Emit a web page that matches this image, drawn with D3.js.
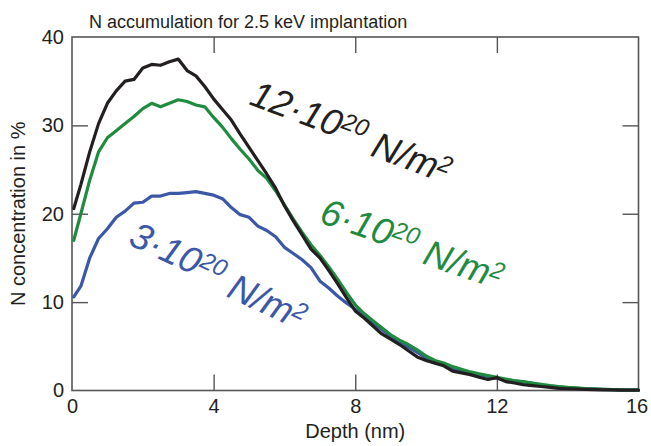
<!DOCTYPE html>
<html>
<head>
<meta charset="utf-8">
<script src="https://cdn.jsdelivr.net/npm/d3@7"></script>
<style>
  html, body { margin: 0; padding: 0; background: #fff; }
  svg { display: block; font-family: "Liberation Sans", Arial, Helvetica, sans-serif; }
</style>
</head>
<body>
<svg id="chart" width="651" height="446"></svg>
<script>
// Depth grid (nm)
const depth = [0.05, 0.25, 0.5, 0.75, 1, 1.25, 1.5, 1.75, 2, 2.25, 2.5, 2.75, 3, 3.25, 3.5, 3.75,
  4, 4.25, 4.5, 4.75, 5, 5.25, 5.5, 5.75, 6, 6.25, 6.5, 6.75, 7, 7.25, 7.5, 7.75,
  8, 8.25, 8.5, 8.75, 9, 9.25, 9.5, 9.75, 10, 10.25, 10.5, 10.75, 11, 11.25, 11.5, 11.75,
  12, 12.25, 12.5, 12.75, 13, 13.25, 13.5, 13.75, 14, 14.25, 14.5, 14.75, 15, 15.25, 15.5, 15.75, 16];

// N concentration (%) for each fluence
const dose3 = [10.6, 11.8, 15.0, 17.2, 18.3, 19.6, 20.3, 21.2, 21.3, 22.0, 22.0, 22.3, 22.3, 22.4, 22.5, 22.3,
  22.1, 21.7, 20.7, 19.9, 19.6, 18.6, 18.1, 17.4, 16.2, 15.5, 14.8, 13.9, 12.4, 11.6, 10.7, 9.9,
  9.2, 8.5, 7.7, 6.9, 6.1, 5.5, 4.9, 4.3, 3.7, 3.3, 2.9, 2.5, 2.2, 2.0, 1.8, 1.6,
  1.4, 1.2, 1.1, 0.95, 0.8, 0.6, 0.5, 0.4, 0.3, 0.25, 0.2, 0.15, 0.12, 0.09, 0.07, 0.05, 0.04];

const dose6 = [17.0, 20.0, 23.8, 27.0, 28.6, 29.4, 30.2, 31.0, 31.9, 32.5, 32.1, 32.5, 32.9, 32.7, 32.3, 32.1,
  30.9, 29.8, 28.5, 27.3, 26.2, 24.9, 24.0, 22.6, 21.0, 19.4, 17.9, 16.5, 15.3, 14.0, 12.6, 11.1,
  9.7, 8.7, 7.9, 7.1, 6.3, 5.7, 5.2, 4.6, 3.9, 3.4, 3.1, 2.7, 2.4, 2.1, 1.9, 1.7,
  1.5, 1.3, 1.1, 1.0, 0.85, 0.7, 0.55, 0.45, 0.35, 0.3, 0.22, 0.18, 0.14, 0.1, 0.08, 0.06, 0.05];

const dose12 = [20.6, 23.3, 27.0, 30.2, 32.5, 33.9, 35.0, 35.2, 36.5, 36.9, 36.8, 37.2, 37.5, 36.2, 35.6, 34.4,
  33.0, 31.8, 30.6, 29.0, 27.5, 26.0, 24.5, 22.9, 20.9, 19.2, 17.6, 16.0, 15.0, 13.6, 12.1, 10.5,
  9.0, 8.2, 7.3, 6.4, 5.8, 5.2, 4.5, 3.8, 3.4, 3.1, 2.8, 2.2, 2.0, 1.8, 1.5, 1.25,
  1.45, 1.0, 0.85, 0.65, 0.55, 0.45, 0.35, 0.25, 0.2, 0.17, 0.13, 0.1, 0.08, 0.07, 0.05, 0.05, 0.04];

const xTicks = [0, 4, 8, 12, 16];
const yTicks = [0, 10, 20, 30, 40];

const series = [
  { values: dose3,  color: "#3b57a7", base: "3", label: [127, 244, 25] },
  { values: dose6,  color: "#1f8b3f", base: "6", label: [318, 222, 19] },
  { values: dose12, color: "#231f20", base: "12", label: [248, 104, 20.5] }
];

const svg = d3.select("#chart");
const W = 651, H = 446;
const m = { left: 72, right: 12.5, top: 37, bottom: 55.5 };

const x = d3.scaleLinear().domain([0, 16]).range([m.left, W - m.right]);
const y = d3.scaleLinear().domain([0, 40]).range([H - m.bottom, m.top]);

const axisColor = "#555";
const tickLen = 16;

// Frame
svg.append("rect")
  .attr("x", x(0)).attr("y", y(40))
  .attr("width", x(16) - x(0)).attr("height", y(0) - y(40))
  .attr("fill", "none").attr("stroke", axisColor).attr("stroke-width", 1.6);

function styleAxis(g) {
  g.select(".domain").remove();
  g.selectAll(".tick line").attr("stroke", axisColor).attr("stroke-width", 1.4);
  g.selectAll(".tick text").attr("fill", "#231f20").style("font-size", "20px");
  g.selectAll(".tick").filter(d => d === 0 || d === 16 || d === 40)
    .select("line").remove();
}

// Bottom axis (ticks pointing inward)
svg.append("g")
  .attr("transform", `translate(0,${y(0)})`)
  .call(d3.axisBottom(x).tickValues(xTicks).tickFormat(d3.format("d"))
    .tickSizeInner(-tickLen).tickSizeOuter(0).tickPadding(8))
  .call(styleAxis)
  .call(g => g.selectAll(".tick").filter(d => d === 16).select("text").attr("dx", -2));

// Top axis (ticks only)
svg.append("g")
  .attr("transform", `translate(0,${y(40)})`)
  .call(d3.axisTop(x).tickValues(xTicks).tickFormat("")
    .tickSizeInner(-tickLen).tickSizeOuter(0))
  .call(styleAxis);

// Left axis
svg.append("g")
  .attr("transform", `translate(${x(0)},0)`)
  .call(d3.axisLeft(y).tickValues(yTicks).tickFormat(d3.format("d"))
    .tickSizeInner(-tickLen).tickSizeOuter(0).tickPadding(8))
  .call(styleAxis);

// Right axis (ticks only)
svg.append("g")
  .attr("transform", `translate(${x(16)},0)`)
  .call(d3.axisRight(y).tickValues(yTicks).tickFormat("")
    .tickSizeInner(-tickLen).tickSizeOuter(0))
  .call(styleAxis);

// Curves
const line = d3.line()
  .x((d, i) => x(depth[i]))
  .y(d => y(d));

series.forEach(s => {
  svg.append("path")
    .datum(s.values)
    .attr("d", line)
    .attr("fill", "none")
    .attr("stroke", s.color)
    .attr("stroke-width", 3.2)
    .attr("stroke-linejoin", "round")
    .attr("stroke-linecap", "round");
});

// Fluence labels along the curves
series.forEach(s => {
  const [lx, ly, ang] = s.label;
  const t = svg.append("text")
    .attr("transform", `translate(${lx},${ly}) rotate(${ang})`)
    .attr("fill", s.color)
    .style("font-size", "37px")
    .style("font-style", "italic");
  t.append("tspan").text(s.base + "\u00B710");
  t.append("tspan").attr("dy", "-0.42em").style("font-size", "24px").text("20");
  t.append("tspan").attr("dy", "0.42em").text("\u00A0N/m");
  t.append("tspan").attr("dy", "-0.42em").style("font-size", "24px").text("2");
});

// Title
svg.append("text")
  .attr("x", 89).attr("y", 28)
  .attr("fill", "#231f20")
  .style("font-size", "18px")
  .text("N accumulation for 2.5 keV implantation");

// Axis titles
svg.append("text")
  .attr("x", (x(0) + x(16)) / 2).attr("y", 438)
  .attr("text-anchor", "middle")
  .attr("fill", "#231f20")
  .style("font-size", "20px")
  .text("Depth (nm)");

svg.append("text")
  .attr("transform", `translate(25,${(y(0) + y(40)) / 2}) rotate(-90)`)
  .attr("text-anchor", "middle")
  .attr("fill", "#231f20")
  .style("font-size", "20px")
  .text("N concentration in %");
</script>
</body>
</html>
